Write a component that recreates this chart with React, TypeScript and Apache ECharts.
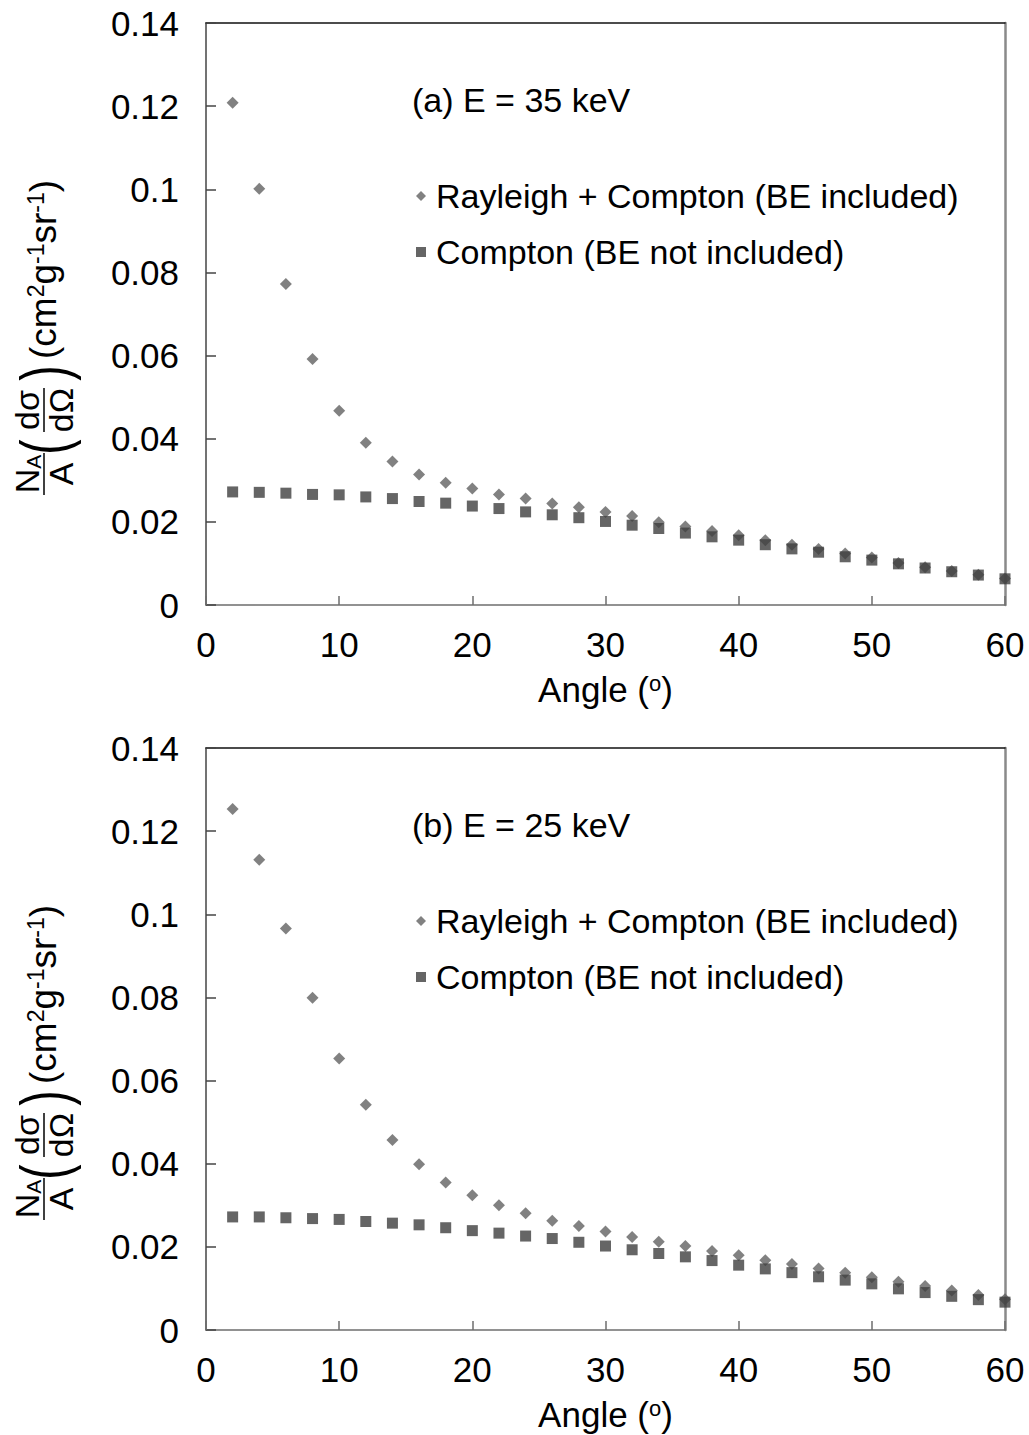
import React, { useEffect, useRef } from "react";
import * as echarts from "echarts";

const FONT = "'Liberation Sans', Arial, Helvetica, sans-serif";

const angles = [2, 4, 6, 8, 10, 12, 14, 16, 18, 20, 22, 24, 26, 28, 30, 32, 34, 36, 38, 40, 42, 44, 46, 48, 50, 52, 54, 56, 58, 60];

const seriesNames = ["Rayleigh + Compton (BE included)", "Compton (BE not included)"];
const panelTitles = ["(a) E = 35 keV", "(b) E = 25 keV"];
const xTicks = [0, 10, 20, 30, 40, 50, 60];
const yTicks = [0, 0.02, 0.04, 0.06, 0.08, 0.1, 0.12, 0.14];

// (a) E = 35 keV
const rayleighA = [0.1208, 0.1001, 0.0772, 0.0592, 0.0467, 0.0390, 0.0345, 0.0314, 0.0294, 0.0280, 0.0266, 0.0256, 0.0244, 0.0235, 0.0224, 0.0214, 0.0199, 0.0189, 0.0178, 0.0168, 0.0156, 0.0145, 0.0135, 0.0124, 0.0114, 0.0101, 0.0091, 0.0082, 0.0073, 0.0064];
const comptonA = [0.0272, 0.0271, 0.0269, 0.0266, 0.0265, 0.0260, 0.0256, 0.0249, 0.0245, 0.0238, 0.0232, 0.0224, 0.0217, 0.0210, 0.0201, 0.0192, 0.0184, 0.0173, 0.0164, 0.0156, 0.0145, 0.0135, 0.0127, 0.0116, 0.0108, 0.0099, 0.0089, 0.0080, 0.0072, 0.0063];

// (b) E = 25 keV
const rayleighB = [0.1253, 0.1131, 0.0966, 0.0799, 0.0653, 0.0542, 0.0457, 0.0399, 0.0355, 0.0324, 0.0300, 0.0281, 0.0263, 0.0250, 0.0237, 0.0224, 0.0212, 0.0202, 0.0190, 0.0180, 0.0168, 0.0159, 0.0148, 0.0138, 0.0127, 0.0116, 0.0106, 0.0095, 0.0084, 0.0074];
const comptonB = [0.0272, 0.0272, 0.0270, 0.0268, 0.0266, 0.0261, 0.0257, 0.0253, 0.0246, 0.0239, 0.0233, 0.0226, 0.0220, 0.0211, 0.0202, 0.0193, 0.0184, 0.0176, 0.0167, 0.0156, 0.0147, 0.0138, 0.0128, 0.0120, 0.0111, 0.0099, 0.0090, 0.0081, 0.0073, 0.0067];

const pair = (ys: number[]) => angles.map((a, i) => [a, ys[i]]);

function yTitle(cx: number, cy: number) {
  const t = (text: string, x: number, y: number, fontSize = 34, extra: any = {}) => ({
    type: "text",
    x,
    y,
    ...extra,
    style: { text, x: 0, y: 0, fontSize, fontFamily: FONT, fill: "#000", align: "center", verticalAlign: "middle" },
  });
  return {
    type: "group",
    x: cx,
    y: cy,
    rotation: Math.PI / 2,
    children: [
      {
        type: "text",
        x: -141,
        y: -15,
        style: {
          text: "N{sub|A}",
          fontSize: 34,
          fontFamily: FONT,
          fill: "#000",
          align: "center",
          verticalAlign: "middle",
          rich: { sub: { fontSize: 21, fontFamily: FONT, fill: "#000", verticalAlign: "bottom" } },
        },
      },
      { type: "line", shape: { x1: -162, y1: 2, x2: -120, y2: 2 }, style: { stroke: "#000", lineWidth: 1.5 } },
      t("A", -141, 19),
      t("(", -114, 2, 66, { scaleX: 0.7 }),
      t("dσ", -77, -15),
      { type: "line", shape: { x1: -99, y1: 2, x2: -55, y2: 2 }, style: { stroke: "#000", lineWidth: 1.5 } },
      t("dΩ", -77, 19),
      t(")", -40, 2, 66, { scaleX: 0.7 }),
      {
        type: "text",
        x: -26,
        y: 1,
        style: {
          text: "(cm{sup|2}g{sup|-1}sr{sup|-1})",
          fontSize: 37,
          fontFamily: FONT,
          fill: "#000",
          align: "left",
          verticalAlign: "middle",
          rich: { sup: { fontSize: 23, fontFamily: FONT, fill: "#000", verticalAlign: "top" } },
        },
      },
    ],
  };
}

export default function App() {
  const ref = useRef<HTMLDivElement>(null);
  useEffect(() => {
    if (!ref.current) return;
    const chart = echarts.init(ref.current, null, { renderer: "svg" });
    const grids = [
      { left: 206, top: 23, width: 799, height: 582 },
      { left: 206, top: 748, width: 799, height: 582 },
    ];
    const labelStyle = { fontSize: 35, color: "#000", fontFamily: FONT };
    const mainX = (gi: number) => ({
      type: "value",
      gridIndex: gi,
      min: xTicks[0],
      max: xTicks[xTicks.length - 1],
      interval: 10,
      position: "bottom",
      axisLine: { show: true, onZero: false, lineStyle: { color: "#6e6e6e", width: 1.5 } },
      axisTick: { show: true, inside: true, length: 9, lineStyle: { color: "#6e6e6e", width: 1.5 } },
      axisLabel: { ...labelStyle, margin: 22 },
      splitLine: { show: false },
      name: "Angle ({sup|o})",
      nameLocation: "middle",
      nameGap: 67,
      nameTextStyle: {
        ...labelStyle,
        rich: { sup: { fontSize: 22, color: "#000", fontFamily: FONT, verticalAlign: "top" } },
      },
    });
    const topX = (gi: number) => ({
      type: "value",
      gridIndex: gi,
      min: 0,
      max: 60,
      position: "top",
      axisLine: { show: true, onZero: false, lineStyle: { color: "#111", width: 1.5 } },
      axisTick: { show: false },
      axisLabel: { show: false },
      splitLine: { show: false },
    });
    const mainY = (gi: number) => ({
      type: "value",
      gridIndex: gi,
      min: yTicks[0],
      max: yTicks[yTicks.length - 1],
      interval: 0.02,
      position: "left",
      axisLine: { show: true, onZero: false, lineStyle: { color: "#444", width: 1.5 } },
      axisTick: { show: true, inside: true, length: 10, lineStyle: { color: "#444", width: 1.5 } },
      axisLabel: { ...labelStyle, margin: 27, formatter: (v: number) => String(Math.round(v * 100) / 100) },
      splitLine: { show: false },
    });
    const rightY = (gi: number) => ({
      type: "value",
      gridIndex: gi,
      min: 0,
      max: 0.14,
      position: "right",
      axisLine: { show: true, onZero: false, lineStyle: { color: "#8a8a8a", width: 2.5 } },
      axisTick: { show: false },
      axisLabel: { show: false },
      splitLine: { show: false },
    });
    const legend = (top: number) => ({
      orient: "vertical",
      left: 416,
      top,
      padding: 0,
      itemWidth: 10,
      itemHeight: 10,
      itemGap: 20,
      selectedMode: false,
      textStyle: { fontSize: 34, lineHeight: 36, color: "#000", fontFamily: FONT, padding: [0, 0, 0, 5] },
      data: [
        { name: seriesNames[0], icon: "diamond", itemStyle: { color: "#626262" } },
        { name: seriesNames[1], icon: "rect", itemStyle: { color: "#3f3f3f" } },
      ],
    });
    const rayStyle = { color: "#626262" };
    const comStyle = { color: "#3f3f3f" };
    chart.setOption({
      animation: false,
      backgroundColor: "#fff",
      grid: grids,
      xAxis: [mainX(0), topX(0), mainX(1), topX(1)],
      yAxis: [mainY(0), rightY(0), mainY(1), rightY(1)],
      legend: [legend(178), legend(903)],
      series: [
        { name: seriesNames[0], type: "scatter", xAxisIndex: 0, yAxisIndex: 0, symbol: "diamond", symbolSize: [12, 12], itemStyle: rayStyle, data: pair(rayleighA), z: 2 },
        { name: seriesNames[1], type: "scatter", xAxisIndex: 0, yAxisIndex: 0, symbol: "rect", symbolSize: [11, 11], itemStyle: comStyle, data: pair(comptonA), z: 3 },
        { name: seriesNames[0], type: "scatter", xAxisIndex: 2, yAxisIndex: 2, symbol: "diamond", symbolSize: [12, 12], itemStyle: rayStyle, data: pair(rayleighB), z: 2 },
        { name: seriesNames[1], type: "scatter", xAxisIndex: 2, yAxisIndex: 2, symbol: "rect", symbolSize: [11, 11], itemStyle: comStyle, data: pair(comptonB), z: 3 },
      ],
      graphic: [
        { type: "text", left: 412, top: 83, style: { text: panelTitles[0], fontSize: 34, fontFamily: FONT, fill: "#000" } },
        { type: "text", left: 412, top: 808, style: { text: panelTitles[1], fontSize: 34, fontFamily: FONT, fill: "#000" } },
        yTitle(42, 333),
        yTitle(42, 1058),
      ],
    });
    return () => chart.dispose();
  }, []);
  return <div ref={ref} style={{ position: "absolute", left: 0, top: 0, width: 1029, height: 1435 }} />;
}
